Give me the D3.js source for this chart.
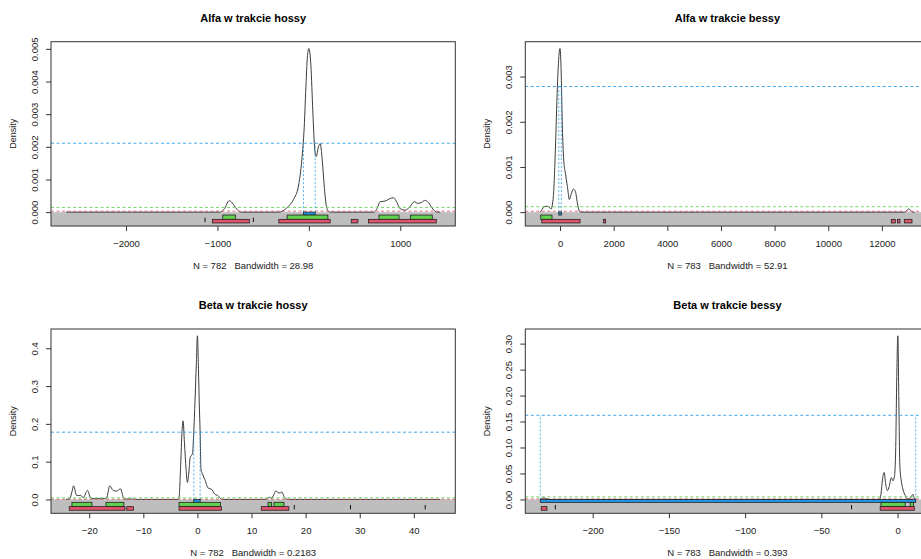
<!DOCTYPE html>
<html>
<head>
<meta charset="utf-8">
<script src="https://cdn.jsdelivr.net/npm/d3@7"></script>
<style>
  body { margin: 0; background: #fff; }
  svg { display: block; font-family: 'Liberation Sans', Arial, sans-serif; }
</style>
</head>
<body>
<div id="chart"></div>
<script>
// --- data ---
const titles = ['Alfa w trakcie hossy', 'Alfa w trakcie bessy', 'Beta w trakcie hossy', 'Beta w trakcie bessy'];
const subtitles = [
  'N = 782   Bandwidth = 28.98',
  'N = 783   Bandwidth = 52.91',
  'N = 782   Bandwidth = 0.2183',
  'N = 783   Bandwidth = 0.393',
];

// x extent of each density estimate
const xRanges = [[-2657, 1438], [-737, 13221], [-24.3, 44.9], [-234.4, 11.2]];

const xTicks = [
  [-2000, -1000, 0, 1000],
  [0, 2000, 4000, 6000, 8000, 10000, 12000],
  [-20, -10, 0, 10, 20, 30, 40],
  [-200, -150, -100, -50, 0],
];
const yTicks = [
  [0, 0.001, 0.002, 0.003, 0.004, 0.005],
  [0, 0.001, 0.002, 0.003],
  [0, 0.1, 0.2, 0.3, 0.4],
  [0, 0.05, 0.1, 0.15, 0.2, 0.25, 0.3],
];
const yFormats = ['.3f', '.3f', '.1f', '.2f'];

// density curves: [x, density]
const alfaHossaCurve = [
  [-2657, 0], [-980, 0], [-930, 0.00008], [-870, 0.00035], [-826, 0.00024], [-780, 0.00006], [-740, 0],
  [-330, 0], [-290, 0.00003], [-241, 0.00013], [-168, 0.00039], [-114, 0.0008], [-77, 0.0016],
  [-51, 0.0026], [-30, 0.004], [-15, 0.0048], [0, 0.00501], [22, 0.0045], [43, 0.0031], [65, 0.0019],
  [80, 0.0017], [105, 0.002], [124, 0.0021], [146, 0.0016], [168, 0.0008], [189, 0.00023], [215, 0.00002],
  [240, 0], [710, 0], [740, 0.00008], [781, 0.00032], [836, 0.00034], [890, 0.00042], [927, 0.00044],
  [964, 0.00029], [1000, 0.0001], [1055, 0.00006], [1110, 0.00018], [1153, 0.00032], [1190, 0.00027],
  [1230, 0.00029], [1266, 0.00036], [1310, 0.00029], [1347, 0.00013], [1383, 0.00002], [1410, 0], [1438, 0],
];
const alfaBessaCurve = [
  [-737, 0], [-700, 0.00003], [-622, 0.0001], [-522, 0.00013], [-423, 0.00012], [-336, 0.00007],
  [-249, 0.00035], [-174, 0.00137], [-100, 0.00276], [-37, 0.0035], [0, 0.00362], [37, 0.0032],
  [87, 0.00188], [137, 0.00115], [199, 0.00086], [274, 0.00057], [348, 0.00028], [410, 0.00039],
  [498, 0.00051], [572, 0.00046], [647, 0.0002], [721, 0.00002], [780, 0],
  [12850, 0], [12950, 0.00005], [13000, 0.00007], [13080, 0.00003], [13150, 0], [13221, 0],
];
const betaHossaCurve = [
  [-24.3, 0], [-23.6, 0.002], [-23.2, 0.02], [-22.9, 0.036], [-22.3, 0.01], [-21.6, 0.011], [-21.1, 0.005],
  [-20.3, 0.024], [-19.8, 0.005], [-19.3, 0.002], [-17.5, 0.002], [-16.8, 0.004], [-16.2, 0.036],
  [-15.6, 0.024], [-15.0, 0.022], [-14.2, 0.028], [-13.7, 0.005], [-13.3, 0.001], [-12, 0.001], [-11, 0],
  [-3.6, 0], [-3.4, 0.005], [-3.1, 0.09], [-2.85, 0.18], [-2.65, 0.208], [-2.4, 0.15], [-2.1, 0.08],
  [-1.85, 0.045], [-1.6, 0.07], [-1.35, 0.11], [-0.9, 0.122], [-0.68, 0.178], [-0.45, 0.26],
  [-0.2, 0.36], [0, 0.433], [0.2, 0.34], [0.35, 0.25], [0.5, 0.178], [0.65, 0.08], [1.0, 0.065],
  [1.36, 0.053], [2.0, 0.03], [2.6, 0.027], [3.2, 0.014], [3.8, 0.01], [4.4, 0.001], [5, 0],
  [11.8, 0], [12.8, 0.001], [13.0, 0.003], [13.3, 0.006], [13.7, 0.003], [14.1, 0.012], [14.5, 0.023],
  [14.9, 0.018], [15.3, 0.017], [15.6, 0.02], [16.0, 0.008], [16.4, 0.001], [17, 0], [44.9, 0],
];
const betaBessaCurve = [
  [-234.4, 0], [-233.5, 0.002], [-232, 0.003], [-230, 0.001], [-228, 0], [-11.8, 0], [-10.9, 0.01],
  [-9.8, 0.04], [-8.8, 0.052], [-7.8, 0.03], [-6.6, 0.017], [-5.5, 0.025], [-4.1, 0.042], [-3.0, 0.036],
  [-2.0, 0.045], [-1.2, 0.1], [-0.6, 0.22], [0.2, 0.315], [0.8, 0.2], [1.5, 0.065], [2.5, 0.035],
  [3.5, 0.02], [5, 0.008], [6.5, 0.001], [8, 0.002], [9.5, 0.008], [10.1, 0.01], [10.8, 0.004], [11.2, 0],
];

// density thresholds of the 50%, 95%, 99% HDRs
const alfaHossaLevels = [0.00211, 0.000144, 0.00003];
const alfaBessaLevels = [0.00278, 0.00012, 0.00002];
const betaHossaLevels = [0.178, 0.0042, 0.0005];
const betaBessaLevels = [0.162, 0.005, 0.001];

// HDR intervals
const alfaHossa50 = [[-59, 69]];
const alfaHossa95 = [[-942, -804], [-238, 208], [767, 986], [1113, 1350]];
const alfaHossa99 = [[-1056, -651], [-329, 233], [463, 537], [653, 1394]];
const alfaHossaOut = [-1136, -607];

const alfaBessa50 = [[-48, 48]];
const alfaBessa95 = [[-720, -299]];
const alfaBessa99 = [[-680, 746], [1616, 1700], [12350, 12500], [12586, 12675], [12836, 13123]];
const alfaBessaOut = [];

const betaHossa50 = [[-0.68, 0.5]];
const betaHossa95 = [[-23.2, -19.5], [-16.9, -13.6], [-3.4, 4.25], [13.05, 13.7], [14.15, 16.0]];
const betaHossa99 = [[-23.7, -13.4], [-13.07, -11.8], [-3.4, 4.43], [11.8, 16.9]];
const betaHossaOut = [17.9, 28.3, 42.1];

const betaBessa50 = [[-234.4, 11.9]];
const betaBessa95 = [[-10.9, 5.0], [8.3, 10.5]];
const betaBessa99 = [[-233.8, -230], [-11.4, 11.0]];
const betaBessaOut = [-224.5, -30.2];

// --- panel table built from the arrays above ---
const panels = [
  {curve: alfaHossaCurve, levels: alfaHossaLevels, hdr: [alfaHossa50, alfaHossa95, alfaHossa99], out: alfaHossaOut},
  {curve: alfaBessaCurve, levels: alfaBessaLevels, hdr: [alfaBessa50, alfaBessa95, alfaBessa99], out: alfaBessaOut},
  {curve: betaHossaCurve, levels: betaHossaLevels, hdr: [betaHossa50, betaHossa95, betaHossa99], out: betaHossaOut},
  {curve: betaBessaCurve, levels: betaBessaLevels, hdr: [betaBessa50, betaBessa95, betaBessa99], out: betaBessaOut},
].map((p, i) => ({...p, title: titles[i], sub: subtitles[i], xRange: xRanges[i],
  xTicks: xTicks[i], yTicks: yTicks[i], yFormat: yFormats[i]}));

const hdrColors = ['#2297E6', '#61D04F', '#DF536B'];
// rows of the boxes inside the grey band (fraction of band height)
const hdrRows = [[0, 0.21], [0.21, 0.52], [0.52, 0.78]];

const svg = d3
  .select('#chart')
  .append('svg')
  .attr('width', 921)
  .attr('height', 559);

svg.append('rect').attr('width', 921).attr('height', 559).attr('fill', '#fff');

const W = 404.3;
const H = 184.3;

panels.forEach(function(p, i) {
  const col = i % 2;
  const row = Math.floor(i / 2);
  const g = svg
    .append('g')
    .attr('transform', `translate(${51 + col * 474.3},${41.7 + row * 287.3})`);

  // R style 4% axis expansion
  const xs = p.xRange[1] - p.xRange[0];
  const x = d3
    .scaleLinear()
    .domain([p.xRange[0] - 0.04 * xs, p.xRange[1] + 0.04 * xs])
    .range([0, W]);

  const ymax = d3.max(p.curve, d => d[1]);
  const ylo = -0.043 * ymax;
  const ys = ymax - ylo;
  const y = d3
    .scaleLinear()
    .domain([ylo - 0.04 * ys, ymax + 0.04 * ys])
    .range([H, 0]);

  const clipId = `clip${i}`;
  g.append('clipPath')
    .attr('id', clipId)
    .append('rect')
    .attr('width', W)
    .attr('height', H);

  const plot = g.append('g').attr('clip-path', `url(#${clipId})`);

  // grey band below zero
  const y0 = y(0);
  const band = H - y0;
  plot
    .append('rect')
    .attr('x', 0)
    .attr('y', y0)
    .attr('width', W)
    .attr('height', band)
    .attr('fill', '#bebebe');

  // density curve
  plot
    .append('path')
    .datum(p.curve)
    .attr('fill', 'none')
    .attr('stroke', '#3c3c3c')
    .attr('stroke-width', 1)
    .attr('d', d3.line().x(d => x(d[0])).y(d => y(d[1])).curve(d3.curveMonotoneX));

  // threshold lines (drawn bottom level first)
  [2, 1, 0].forEach(function(k) {
    plot
      .append('line')
      .attr('x1', 0)
      .attr('x2', W)
      .attr('y1', y(p.levels[k]))
      .attr('y2', y(p.levels[k]))
      .attr('stroke', hdrColors[k])
      .attr('stroke-width', 1)
      .attr('stroke-dasharray', '3,2.5')
      .attr('opacity', 0.85);
  });

  // vertical lines at the 50% HDR ends
  p.hdr[0].forEach(function(iv) {
    iv.forEach(function(v) {
      plot
        .append('line')
        .attr('x1', x(v))
        .attr('x2', x(v))
        .attr('y1', y0)
        .attr('y2', y(p.levels[0]))
        .attr('stroke', hdrColors[0])
        .attr('stroke-width', 1)
        .attr('stroke-dasharray', '2,2')
        .attr('opacity', 0.75);
    });
  });

  // HDR boxes
  p.hdr.forEach(function(ivs, k) {
    plot
      .selectAll(`.hdr${k}`)
      .data(ivs)
      .enter()
      .append('rect')
      .attr('class', `hdr${k}`)
      .attr('x', d => x(d[0]))
      .attr('width', d => Math.max(2, x(d[1]) - x(d[0])))
      .attr('y', y0 + hdrRows[k][0] * band)
      .attr('height', (hdrRows[k][1] - hdrRows[k][0]) * band)
      .attr('fill', hdrColors[k])
      .attr('stroke', '#222')
      .attr('stroke-width', 0.8);
  });

  // isolated points
  plot
    .selectAll('.out')
    .data(p.out)
    .enter()
    .append('line')
    .attr('x1', d => x(d))
    .attr('x2', d => x(d))
    .attr('y1', y0 + 0.4 * band)
    .attr('y2', y0 + 0.72 * band)
    .attr('stroke', '#111')
    .attr('stroke-width', 1);

  // axes
  const xAxis = g
    .append('g')
    .attr('transform', `translate(0,${H})`)
    .call(d3.axisBottom(x).tickValues(p.xTicks).tickSize(5).tickFormat(d3.format('d')));
  xAxis.select('.domain').remove();
  xAxis.selectAll('line').attr('stroke', '#333');
  xAxis
    .selectAll('text')
    .attr('y', 14)
    .attr('dy', '0.71em')
    .attr('fill', '#222')
    .style('font-size', '9.5px')
    .style('font-family', "'Liberation Sans', Arial, sans-serif");

  const yAxis = g
    .append('g')
    .call(d3.axisLeft(y).tickValues(p.yTicks).tickSize(5).tickFormat(d3.format(p.yFormat)));
  yAxis.select('.domain').remove();
  yAxis.selectAll('line').attr('stroke', '#333');
  yAxis
    .selectAll('text')
    .attr('transform', 'rotate(-90)')
    .attr('x', 0)
    .attr('y', -13.5)
    .attr('dy', 0)
    .attr('fill', '#222')
    .style('text-anchor', 'middle')
    .style('font-size', '9.5px')
    .style('font-family', "'Liberation Sans', Arial, sans-serif");

  // plot frame
  g.append('rect')
    .attr('width', W)
    .attr('height', H)
    .attr('fill', 'none')
    .attr('stroke', '#333')
    .attr('stroke-width', 1);

  // labels
  g.append('text')
    .attr('x', W / 2)
    .attr('y', -19.7)
    .attr('text-anchor', 'middle')
    .style('font-size', '11px')
    .style('font-weight', 'bold')
    .text(p.title);

  g.append('text')
    .attr('x', W / 2)
    .attr('y', H + 43)
    .attr('text-anchor', 'middle')
    .attr('fill', '#222')
    .style('font-size', '9.5px')
    .style('white-space', 'pre')
    .text(p.sub);

  g.append('text')
    .attr('transform', `translate(-35.5,${H / 2}) rotate(-90)`)
    .attr('text-anchor', 'middle')
    .attr('fill', '#222')
    .style('font-size', '9px')
    .text('Density');
});
</script>
</body>
</html>
